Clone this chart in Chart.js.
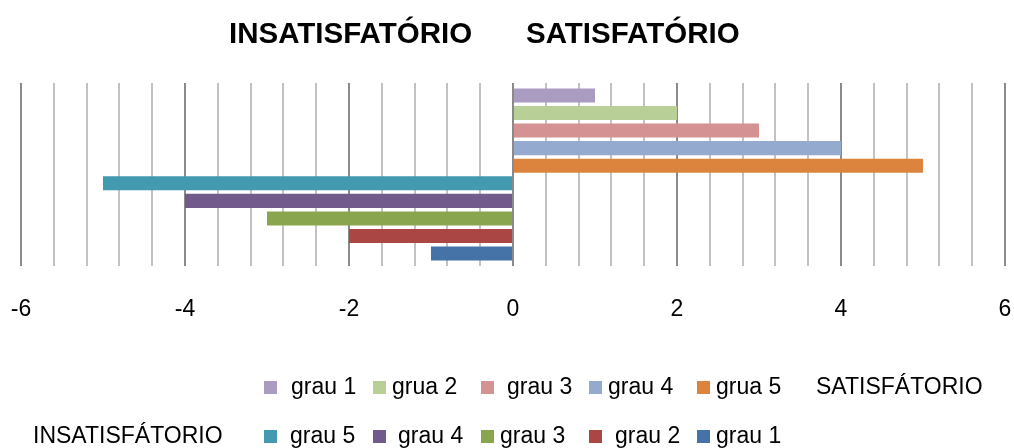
<!DOCTYPE html>
<html>
<head>
<meta charset="utf-8">
<script src="https://cdn.jsdelivr.net/npm/chart.js@4/dist/chart.umd.min.js"></script>
<style>
  html, body { margin: 0; padding: 0; background: #fff; }
  #wrap { width: 1014px; height: 448px; }
</style>
</head>
<body>
<div id="wrap"><canvas id="grauChart" width="1014" height="448"></canvas></div>
<script>
// satisfied side (top bars) and unsatisfied side (bottom bars)
const satisLabels = ['grau 1', 'grua 2', 'grau 3', 'grau 4', 'grua 5'];
const satisValues = [1, 2, 3, 4, 5];
const satisColors = ['#aa9bc0', '#b9cf98', '#d49292', '#95aacf', '#dc843d'];

const insatLabels = ['grau 5', 'grau 4', 'grau 3', 'grau 2', 'grau 1'];
const insatValues = [-5, -4, -3, -2, -1];
const insatColors = ['#4399b0', '#735a8d', '#89a54e', '#aa4744', '#4572a7'];

const titleLeft = 'INSATISFATÓRIO';
const titleRight = 'SATISFATÓRIO';
const groupRight = 'SATISFÁTORIO';
const groupLeft = 'INSATISFÁTORIO';

const FONT = '"Liberation Sans", Arial, sans-serif';

const datasets = [];
satisLabels.forEach((name, i) => {
  datasets.push({ label: name, data: [satisValues[i]], backgroundColor: satisColors[i], row: 0 });
});
insatLabels.forEach((name, i) => {
  datasets.push({ label: name, data: [insatValues[i]], backgroundColor: insatColors[i], row: 1 });
});

// title + two-row legend drawn straight onto the canvas
const legendLayout = {
  swatchX: [264, 373, 481, 589, 697],
  textX: [[291, 392, 507, 608, 716], [290, 398, 500, 615, 716]],
  baseline: [394, 443],
  groupText: [[groupRight, 816], [groupLeft, 33]]
};

const textPlugin = {
  id: 'textPlugin',
  afterDraw(chart) {
    const ctx = chart.ctx;
    ctx.save();
    ctx.fillStyle = '#000';
    ctx.textBaseline = 'alphabetic';
    ctx.textAlign = 'left';
    ctx.font = 'bold 29.5px ' + FONT;
    ctx.fillText(titleLeft, 229, 43);
    ctx.fillText(titleRight, 526, 43);

    ctx.font = '23px ' + FONT;
    const counters = [0, 0];
    chart.data.datasets.forEach(ds => {
      const r = ds.row;
      const k = counters[r]++;
      const y = legendLayout.baseline[r];
      ctx.fillStyle = ds.backgroundColor;
      ctx.fillRect(legendLayout.swatchX[k], y - 13, 13, 13);
      ctx.fillStyle = '#000';
      ctx.fillText(ds.label, legendLayout.textX[r][k], y);
    });
    legendLayout.groupText.forEach(([txt, x], r) => {
      ctx.fillText(txt, x, legendLayout.baseline[r]);
    });
    ctx.restore();
  }
};

new Chart(document.getElementById('grauChart'), {
  type: 'bar',
  data: { labels: [''], datasets: datasets },
  options: {
    indexAxis: 'y',
    responsive: false,
    animation: false,
    layout: { padding: { top: 83, bottom: 124, left: 21, right: 9 } },
    datasets: { bar: { categoryPercentage: 0.96, barPercentage: 0.8 } },
    plugins: {
      legend: { display: false },
      title: { display: false },
      tooltip: { enabled: false }
    },
    scales: {
      x: {
        type: 'linear',
        min: -6,
        max: 6,
        border: { display: false },
        grid: {
          drawTicks: false,
          lineWidth: 2,
          color: c => (Math.round(c.tick.value * 10) % 20 === 0 ? '#8a8a8a' : '#c2c2c2')
        },
        ticks: {
          stepSize: 0.4,
          padding: 30,
          autoSkip: false,
          maxRotation: 0,
          color: '#000',
          font: { family: FONT, size: 23 },
          callback: v => (Math.round(v * 10) % 20 === 0 ? String(Math.round(v)) : '')
        },
        // keep the plot edges where the layout padding puts them
        afterFit: scale => {
          scale.paddingLeft = 0;
          scale.paddingRight = 0;
          scale.height = 58;
        }
      },
      y: { display: false }
    }
  },
  plugins: [textPlugin]
});
</script>
</body>
</html>
